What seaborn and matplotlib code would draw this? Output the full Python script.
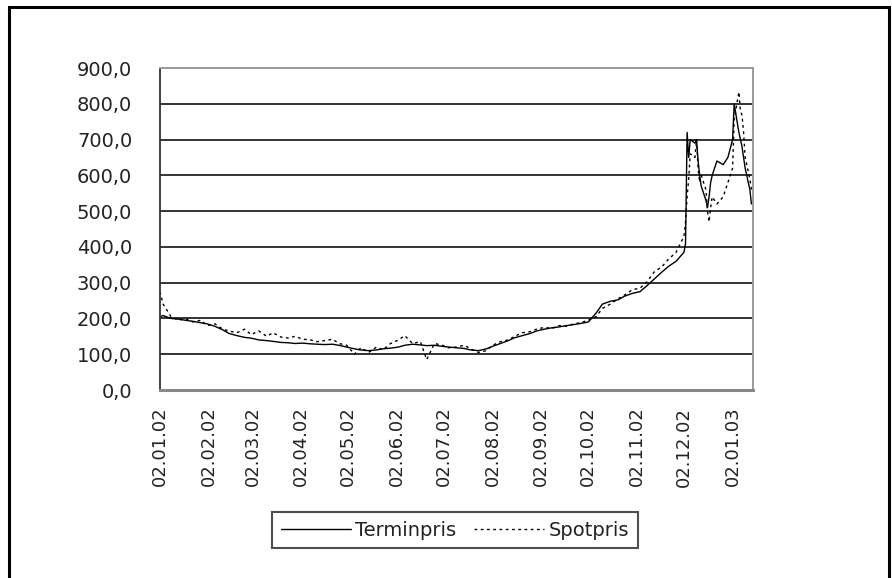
import matplotlib
matplotlib.use("Agg")
import matplotlib.pyplot as plt
import matplotlib.dates as mdates
from matplotlib.patches import Rectangle
import numpy as np
import pandas as pd
import seaborn as sns

dates = [
    "2002-01-02", "2002-01-04", "2002-01-09", "2002-01-14", "2002-01-18", "2002-01-23", "2002-01-28", "2002-02-01", "2002-02-06", "2002-02-11",
    "2002-02-15", "2002-02-20", "2002-02-25", "2002-03-01", "2002-03-06", "2002-03-11", "2002-03-15", "2002-03-20", "2002-03-25", "2002-03-29",
    "2002-04-03", "2002-04-08", "2002-04-12", "2002-04-17", "2002-04-22", "2002-04-26", "2002-05-01", "2002-05-06", "2002-05-10", "2002-05-15",
    "2002-05-20", "2002-05-24", "2002-05-29", "2002-06-03", "2002-06-07", "2002-06-12", "2002-06-17", "2002-06-21", "2002-06-26", "2002-07-01",
    "2002-07-05", "2002-07-10", "2002-07-15", "2002-07-19", "2002-07-24", "2002-07-29", "2002-08-02", "2002-08-07", "2002-08-12", "2002-08-16",
    "2002-08-21", "2002-08-26", "2002-08-30", "2002-09-04", "2002-09-09", "2002-09-13", "2002-09-18", "2002-09-23", "2002-09-27", "2002-10-02",
    "2002-10-07", "2002-10-11", "2002-10-16", "2002-10-21", "2002-10-25", "2002-10-30", "2002-11-04", "2002-11-08", "2002-11-13", "2002-11-18",
    "2002-11-22", "2002-11-27", "2002-12-02", "2002-12-03", "2002-12-04", "2002-12-05", "2002-12-06", "2002-12-09", "2002-12-10", "2002-12-11",
    "2002-12-12", "2002-12-13", "2002-12-16", "2002-12-17", "2002-12-18", "2002-12-19", "2002-12-20", "2002-12-23", "2002-12-27", "2002-12-30",
    "2003-01-02", "2003-01-03", "2003-01-06", "2003-01-07", "2003-01-08", "2003-01-09", "2003-01-10", "2003-01-13", "2003-01-14",
]

terminpris = [
    205, 208, 200, 198, 195, 192, 188, 185, 178, 168,
    158, 152, 147, 145, 140, 138, 136, 133, 132, 130,
    131, 129, 128, 127, 128, 125, 120, 115, 112, 110,
    112, 115, 117, 120, 125, 128, 126, 124, 125, 122,
    120, 118, 116, 112, 110, 115, 122, 130, 138, 146,
    152, 158, 165, 170, 174, 176, 180, 183, 186, 190,
    215, 240, 248, 252, 262, 270, 275, 290, 310, 330,
    345, 360, 385, 410, 720, 650, 700, 690, 700, 640,
    600, 570, 530, 510, 540, 580, 600, 640, 630, 650,
    700, 800, 720, 700, 680, 650, 620, 560, 520,
]

spotpris = [
    275, 240, 205, 195, 200, 190, 195, 180, 185, 170,
    165, 160, 170, 155, 165, 150, 160, 148, 145, 150,
    142, 140, 135, 138, 142, 130, 125, 100, 118, 105,
    120, 112, 130, 140, 152, 130, 135, 85, 130, 125,
    118, 120, 125, 115, 105, 110, 125, 135, 140, 150,
    160, 163, 170, 175, 172, 180, 178, 185, 188, 195,
    205, 228, 240, 255, 265, 280, 285, 300, 330, 345,
    365, 385, 430, 470, 540, 590, 660, 650, 700, 620,
    580, 600, 560, 500, 470, 510, 540, 520, 540, 580,
    620, 755, 833, 780, 768, 720, 650, 590, 560,
]

series_names = ["Terminpris", "Spotpris"]
y_ticks = [0, 100, 200, 300, 400, 500, 600, 700, 800, 900]
x_tick_dates = ["2002-01-02", "2002-02-02", "2002-03-02", "2002-04-02", "2002-05-02", "2002-06-02",
                "2002-07-02", "2002-08-02", "2002-09-02", "2002-10-02", "2002-11-02", "2002-12-02",
                "2003-01-02"]

df = pd.DataFrame({"dato": pd.to_datetime(dates), series_names[0]: terminpris, series_names[1]: spotpris})

sns.set_style("white")
plt.rcParams["font.family"] = ["DejaVu Sans"]
text_color = "#222222"

fig = plt.figure(figsize=(8.92, 5.78), dpi=100)
ax = fig.add_axes([160 / 892, 1 - 390 / 578, (753 - 160) / 892, (390 - 68) / 578])

sns.lineplot(data=df, x="dato", y=series_names[0], ax=ax, color="black", linewidth=1.0,
             label=series_names[0])
sns.lineplot(data=df, x="dato", y=series_names[1], ax=ax, color="black", linewidth=1.0,
             linestyle=(0, (2, 2.5)), label=series_names[1])

ax.set_xlim(pd.Timestamp("2002-01-02"), pd.Timestamp("2003-01-15"))
ax.set_ylim(0, 900)
ax.set_yticks(y_ticks)
ax.set_yticklabels([f"{v:.1f}".replace(".", ",") for v in y_ticks], fontsize=14, color=text_color)
xt = pd.to_datetime(x_tick_dates)
ax.set_xticks(xt)
ax.set_xticklabels([d.strftime("%d.%m.%y") for d in xt], rotation=90, fontsize=13, color=text_color)
ax.set_xlabel("")
ax.set_ylabel("")

for v in y_ticks[1:-1]:
    ax.axhline(v, color="#333333", linewidth=1.4, zorder=0.5)

ax.tick_params(axis="y", direction="out", length=8, width=1.2, color="#333333", pad=12)
ax.tick_params(axis="x", direction="inout", length=8, width=1.0, color="#555555", pad=8)

ax.spines["left"].set_color("#333333")
ax.spines["left"].set_linewidth(1.3)
ax.spines["bottom"].set_color("#888888")
ax.spines["bottom"].set_linewidth(2.2)
ax.spines["top"].set_color("#999999")
ax.spines["top"].set_linewidth(1.4)
ax.spines["right"].set_color("#999999")
ax.spines["right"].set_linewidth(1.4)

leg = ax.legend(loc="center", bbox_to_anchor=(455 / 892, 1 - 530 / 578), bbox_transform=fig.transFigure,
                ncol=2, frameon=True, fancybox=False, fontsize=14, handlelength=3.6,
                handletextpad=0.25, columnspacing=0.9, borderpad=0.45, borderaxespad=0)
leg.get_frame().set_edgecolor("#222222")
leg.get_frame().set_linewidth(1.5)
for t in leg.get_texts():
    t.set_color(text_color)

fig.patches.append(Rectangle((8.5 / 892, -0.05), 880 / 892, 1 - 6.5 / 578 + 0.05,
                             transform=fig.transFigure, fill=False, edgecolor="black",
                             linewidth=2.2, zorder=10))

fig.savefig("out.png", dpi=100, facecolor="white")
